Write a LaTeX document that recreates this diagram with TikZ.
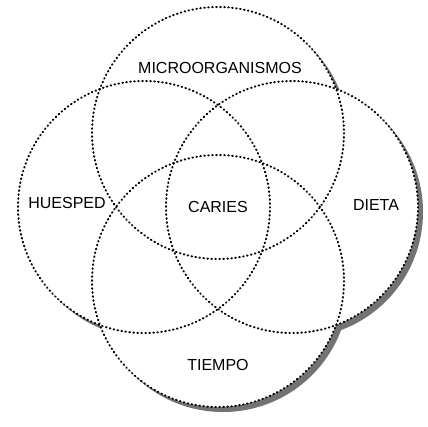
\documentclass[tikz,border=0pt]{standalone}
\usepackage{fontspec}
\setmainfont{Liberation Sans}
\usetikzlibrary{positioning}

\begin{document}
\begin{tikzpicture}[
    x=0.75pt, y=-0.75pt,
    ring/.style={draw=black, line width=1.5pt, dash pattern=on 0.5pt off 2.5pt, line cap=round},
    shade/.style={fill=black!55},
    lbl/.style={font=\fontsize{12}{14}\selectfont, inner sep=1pt}
]
\useasboundingbox (0,0) rectangle (428,426);

% Centres of the four factors
\coordinate (o) at (218,207);
\coordinate (micro) at (218,133);
\coordinate (huesped) at (144,207);
\coordinate (dieta) at (292,207);
\coordinate (tiempo) at (218,281);

% Shadow, paper and circles
\foreach \c in {micro,huesped,dieta,tiempo}
    \fill[shade] ([shift={(5,5)}]\c) circle[radius=126];
\foreach \c in {micro,huesped,dieta,tiempo}
    \fill[white] (\c) circle[radius=126];
\foreach \c in {micro,huesped,dieta,tiempo}
    \draw[ring] (\c) circle[radius=126];

% Labels
\node[lbl] (microlbl) at (220,68) {MICROORGANISMOS};
\node[lbl] (huespedlbl) at (67,203) {HUESPED};
\node[lbl] (carieslbl) at (o) {CARIES};
\node[lbl] (dietalbl) at (376,205) {DIETA};
\node[lbl] (tiempolbl) at (218,365) {TIEMPO};

\end{tikzpicture}
\end{document}
